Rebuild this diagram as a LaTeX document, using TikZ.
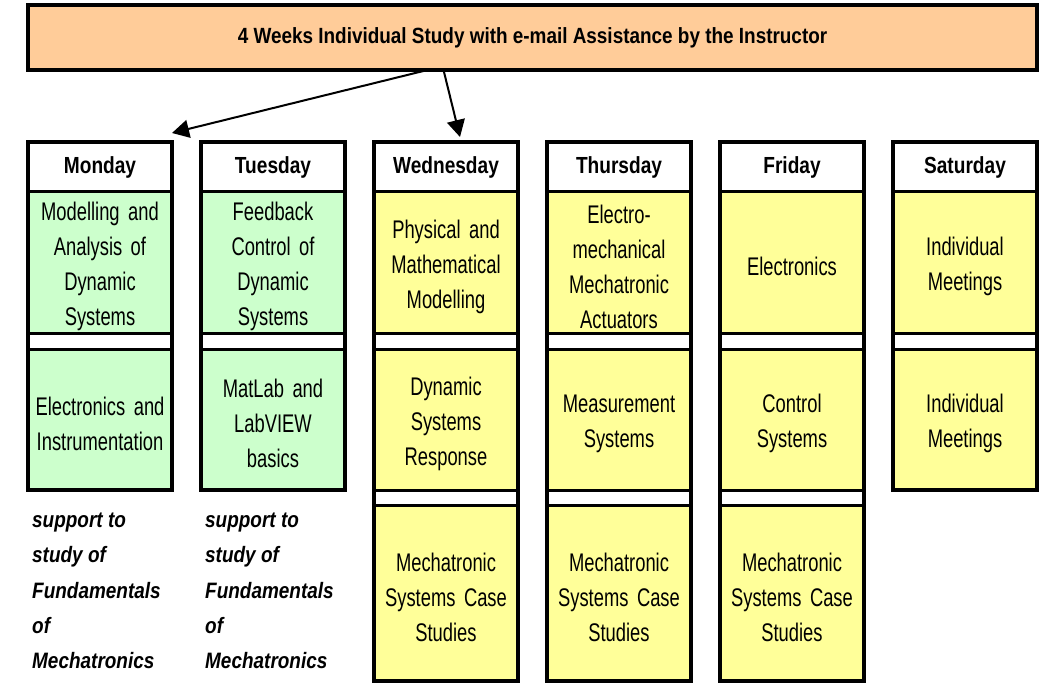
\documentclass[tikz,border=0pt]{standalone}
\usepackage{fontspec}
\setmainfont{Liberation Sans}[FakeStretch=0.72]
\newfontfamily\dayfont{Liberation Sans}[FakeStretch=0.82]
\newfontfamily\bannerfont{Liberation Sans}[FakeStretch=0.86]
\newfontfamily\notefont{Liberation Sans}[FakeStretch=0.85]
\usetikzlibrary{positioning,arrows.meta}
\definecolor{bannerfill}{HTML}{FFCC99}
\definecolor{greenfill}{HTML}{CCFFCC}
\definecolor{yellowfill}{HTML}{FFFF99}
\tikzset{
  cell/.style={draw,line width=3pt,inner sep=0pt,outer sep=0pt,
    minimum width=144pt,text width=140pt,align=center,
    font=\fontsize{25.5}{35}\selectfont},
  textcell/.style={cell,text height=26.5pt},
  dayhead/.style={cell,fill=white,minimum height=50pt,anchor=north,
    font=\dayfont\fontsize{23.3}{28}\selectfont\bfseries},
  greencell/.style={textcell,fill=greenfill,minimum height=141pt},
  yellowcell/.style={textcell,fill=yellowfill,minimum height=141pt},
  lastcell/.style={textcell,fill=yellowfill,minimum height=176pt},
  gapcell/.style={cell,fill=white,minimum height=16pt},
  colframe/.style={line width=4.5pt},
  banner/.style={draw,line width=4.5pt,fill=bannerfill,inner sep=0pt,outer sep=0pt,
    minimum width=1009pt,minimum height=65pt,
    font=\bannerfont\fontsize{22}{26}\selectfont\bfseries},
  note/.style={anchor=north west,align=left,inner sep=0pt,
    font=\notefont\fontsize{22.3}{35.2}\selectfont\bfseries\itshape},
  arr/.style={line width=2pt,-{Triangle[length=17pt,width=18pt]}}
}
\begin{document}
\begin{tikzpicture}[x=1pt,y=-1pt]
  \useasboundingbox (0,0) rectangle (1039,687);
  \node[banner] (ban) at (532.5,37.5) {4 Weeks Individual Study with e-mail Assistance by the Instructor};

  % Monday
  \node[dayhead] (mon) at (100,142) {Monday};
  \node[greencell,below=0pt of mon] (mon1) {Modelling and\\Analysis of\\Dynamic\\Systems};
  \node[gapcell,below=0pt of mon1] (monga) {};
  \node[greencell,below=0pt of monga] (mon2) {Electronics and\\Instrumentation};
  \draw[colframe] (mon.north west) rectangle (mon2.south east);
  \node[note] (monnote) at (32,513) {support to\\study of\\Fundamentals\\of\\Mechatronics};

  % Tuesday
  \node[dayhead] (tue) at (273,142) {Tuesday};
  \node[greencell,below=0pt of tue] (tue1) {Feedback\\Control of\\Dynamic\\Systems};
  \node[gapcell,below=0pt of tue1] (tuega) {};
  \node[greencell,below=0pt of tuega] (tue2) {MatLab and\\LabVIEW\\basics};
  \draw[colframe] (tue.north west) rectangle (tue2.south east);
  \node[note] (tuenote) at (205,513) {support to\\study of\\Fundamentals\\of\\Mechatronics};

  % Wednesday
  \node[dayhead] (wed) at (446,142) {Wednesday};
  \node[yellowcell,below=0pt of wed] (wed1) {Physical and\\Mathematical\\Modelling};
  \node[gapcell,below=0pt of wed1] (wedga) {};
  \node[yellowcell,below=0pt of wedga] (wed2) {Dynamic\\Systems\\Response};
  \node[gapcell,minimum height=15pt,below=0pt of wed2] (wedgb) {};
  \node[lastcell,below=0pt of wedgb] (wed3) {Mechatronic\\Systems Case\\Studies};
  \draw[colframe] (wed.north west) rectangle (wed3.south east);

  % Thursday
  \node[dayhead] (thu) at (619,142) {Thursday};
  \node[yellowcell,below=0pt of thu] (thu1) {Electro-\\mechanical\\Mechatronic\\Actuators};
  \node[gapcell,below=0pt of thu1] (thuga) {};
  \node[yellowcell,below=0pt of thuga] (thu2) {Measurement\\Systems};
  \node[gapcell,minimum height=15pt,below=0pt of thu2] (thugb) {};
  \node[lastcell,below=0pt of thugb] (thu3) {Mechatronic\\Systems Case\\Studies};
  \draw[colframe] (thu.north west) rectangle (thu3.south east);

  % Friday
  \node[dayhead] (fri) at (792,142) {Friday};
  \node[yellowcell,below=0pt of fri] (fri1) {Electronics};
  \node[gapcell,below=0pt of fri1] (friga) {};
  \node[yellowcell,below=0pt of friga] (fri2) {Control\\Systems};
  \node[gapcell,minimum height=15pt,below=0pt of fri2] (frigb) {};
  \node[lastcell,below=0pt of frigb] (fri3) {Mechatronic\\Systems Case\\Studies};
  \draw[colframe] (fri.north west) rectangle (fri3.south east);

  % Saturday
  \node[dayhead] (sat) at (965,142) {Saturday};
  \node[yellowcell,below=0pt of sat] (sat1) {Individual\\Meetings};
  \node[gapcell,below=0pt of sat1] (satga) {};
  \node[yellowcell,below=0pt of satga] (sat2) {Individual\\Meetings};
  \draw[colframe] (sat.north west) rectangle (sat2.south east);

  % arrows
  \draw[arr] ([xshift=-105pt]ban.south) -- ([shift={(0pt,9pt)}]mon.north east);
  \draw[arr] ([xshift=-89pt]ban.south) -- ([shift={(14pt,5pt)}]wed.north);
\end{tikzpicture}
\end{document}
